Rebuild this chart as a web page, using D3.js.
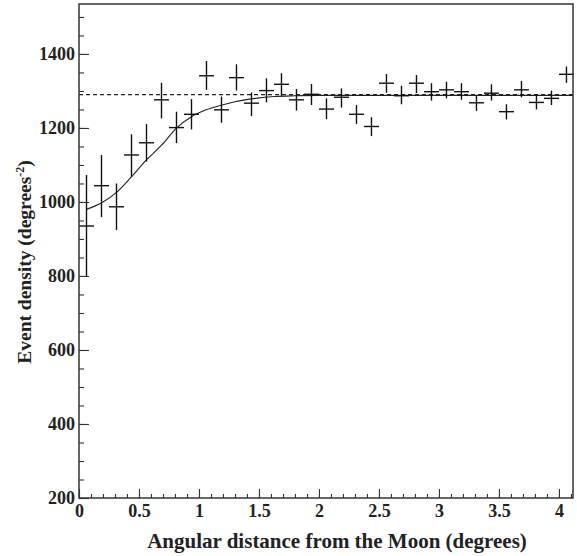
<!DOCTYPE html>
<html>
<head>
<meta charset="utf-8">
<script src="https://cdn.jsdelivr.net/npm/d3@7"></script>
<style>
  body { margin: 0; background: #fff; }
  text { font-family: "Liberation Serif", "Times New Roman", serif; font-weight: bold; fill: #222; }
</style>
</head>
<body>
<svg id="chart" width="577" height="556"></svg>
<script>
// bin centres (degrees) and measured event density with error bar ends
var binCenters = [0.0625, 0.1875, 0.3125, 0.4375, 0.5625, 0.6875, 0.8125, 0.9375, 1.0625, 1.1875,
    1.3125, 1.4375, 1.5625, 1.6875, 1.8125, 1.9375, 2.0625, 2.1875, 2.3125, 2.4375,
    2.5625, 2.6875, 2.8125, 2.9375, 3.0625, 3.1875, 3.3125, 3.4375, 3.5625, 3.6875,
    3.8125, 3.9375, 4.0625]
var density = [935, 1044, 987, 1127, 1160, 1276, 1201, 1237, 1341, 1249,
    1336, 1267, 1301, 1318, 1276, 1291, 1251, 1283, 1237, 1204,
    1321, 1287, 1321, 1298, 1303, 1298, 1268, 1294, 1244, 1303,
    1269, 1280, 1345]
var errLow = [798, 959, 924, 1068, 1109, 1226, 1159, 1196, 1303, 1214,
    1301, 1232, 1269, 1287, 1247, 1262, 1224, 1255, 1211, 1178,
    1295, 1264, 1294, 1274, 1280, 1276, 1246, 1274, 1223, 1283,
    1250, 1262, 1322]
var errHigh = [1073, 1127, 1050, 1183, 1211, 1322, 1244, 1278, 1381, 1285,
    1372, 1296, 1334, 1348, 1305, 1319, 1280, 1307, 1262, 1229,
    1346, 1314, 1343, 1321, 1325, 1321, 1289, 1318, 1264, 1327,
    1291, 1301, 1366]
var binHalfWidth = 0.0625

// fitted curve
var fitX = [0.06, 0.19, 0.32, 0.44, 0.56, 0.69, 0.81, 0.94, 1.06, 1.17, 1.3, 1.47, 1.63, 1.8, 2.0, 4.117]
var fitY = [980, 998, 1028, 1069, 1113, 1154, 1199, 1231, 1249, 1260, 1271, 1280, 1285, 1287, 1288, 1288]

var flatLevel = 1290

var xTicks = [0, 0.5, 1, 1.5, 2, 2.5, 3, 3.5, 4]
var yTicks = [200, 400, 600, 800, 1000, 1200, 1400]

var margin = {left: 79, top: 4, right: 4, bottom: 58}
var width = 577 - margin.left - margin.right,
    height = 556 - margin.top - margin.bottom

var svg = d3.select('#chart')
var g = svg.append('g').attr('transform', 'translate(' + margin.left + ',' + margin.top + ')')

var x = d3.scaleLinear().domain([0, 4.117]).range([0, width])
var y = d3.scaleLinear().domain([200, 1535]).range([height, 0])

// dashed reference level
g.append('line')
    .attr('x1', 0).attr('x2', width)
    .attr('y1', y(flatLevel)).attr('y2', y(flatLevel))
    .attr('stroke', '#222').attr('stroke-width', 1.1)
    .attr('stroke-dasharray', '4,3')

// fit curve
var fit = fitX.map((d, i) => [d, fitY[i]])
g.append('path')
    .datum(fit)
    .attr('fill', 'none')
    .attr('stroke', '#222')
    .attr('stroke-width', 1.1)
    .attr('d', d3.line().x(d => x(d[0])).y(d => y(d[1])).curve(d3.curveMonotoneX))

// data points as crosses
var pts = binCenters.map((c, i) => ({x: c, v: density[i], lo: errLow[i], hi: errHigh[i]}))
var cross = g.append('g').selectAll('g').data(pts).enter().append('g')
cross.append('line')
    .attr('x1', d => x(d.x - binHalfWidth)).attr('x2', d => x(d.x + binHalfWidth))
    .attr('y1', d => y(d.v)).attr('y2', d => y(d.v))
    .attr('stroke', '#111').attr('stroke-width', 1.4)
cross.append('line')
    .attr('x1', d => x(d.x)).attr('x2', d => x(d.x))
    .attr('y1', d => y(d.lo)).attr('y2', d => y(d.hi))
    .attr('stroke', '#111').attr('stroke-width', 1.4)

// axes: ticks drawn inward
var xAxis = d3.axisBottom(x).tickValues(d3.range(0, 4.11, 0.1)).tickSize(-4).tickFormat('')
var xMajor = d3.axisBottom(x).tickValues(xTicks).tickSize(-9).tickPadding(6)
    .tickFormat(d => String(d))
var yAxis = d3.axisLeft(y).tickValues(d3.range(200, 1501, 50)).tickSize(-5).tickFormat('')
var yMajor = d3.axisLeft(y).tickValues(yTicks).tickSize(-10).tickPadding(4)
    .tickFormat(d3.format('d'))

function styleAxis(sel) {
    sel.select('.domain').remove()
    sel.selectAll('line').attr('stroke', '#333').attr('stroke-width', 1.1)
    sel.selectAll('text').attr('font-size', 18).attr('fill', '#222')
        .attr('font-family', '"Liberation Serif", serif').attr('font-weight', 'bold')
}

g.append('g').attr('transform', 'translate(0,' + height + ')').call(xAxis).call(styleAxis)
g.append('g').attr('transform', 'translate(0,' + height + ')').call(xMajor).call(styleAxis)
g.append('g').call(yAxis).call(styleAxis)
g.append('g').call(yMajor).call(styleAxis)

// frame
g.append('rect')
    .attr('width', width).attr('height', height)
    .attr('fill', 'none').attr('stroke', '#333').attr('stroke-width', 1.5)

// titles
svg.append('text')
    .attr('x', 337).attr('y', 548)
    .attr('text-anchor', 'middle')
    .attr('font-size', 21)
    .text('Angular distance from the Moon (degrees)')

var yt = svg.append('text')
    .attr('transform', 'translate(31,262) rotate(-90)')
    .attr('text-anchor', 'middle')
    .attr('font-size', 19.5)
yt.append('tspan').text('Event density (degrees')
yt.append('tspan').attr('font-size', 12).attr('dy', -7).text('-2')
yt.append('tspan').attr('dy', 7).text(')')
</script>
</body>
</html>
